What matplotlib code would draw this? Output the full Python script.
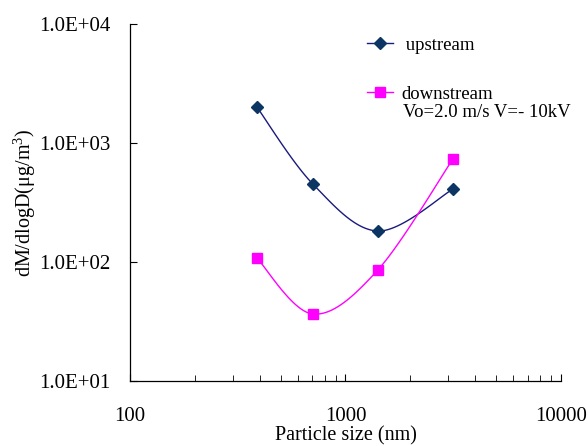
import numpy as np
import matplotlib
matplotlib.use("Agg")
import matplotlib.pyplot as plt

plt.rcParams['font.family'] = ['Liberation Serif', 'DejaVu Serif']
plt.rcParams['mathtext.fontset'] = 'custom'
plt.rcParams['mathtext.rm'] = 'Liberation Serif'
plt.rcParams['mathtext.it'] = 'Liberation Serif:italic'

# data
sizes = [388, 706, 1416, 3155]
upstream = [2010, 452, 182, 410]
downstream = [108, 36.5, 86, 735]


def smooth(xs, ys, n=40):
    """Catmull-Rom curve through the points in log-log space (Excel-like smoothing)."""
    lx = np.log10(xs)
    ly = np.log10(ys)
    px = np.concatenate([[lx[0]], lx, [lx[-1]]])
    py = np.concatenate([[ly[0]], ly, [ly[-1]]])
    outx, outy = [], []
    t = np.linspace(0, 1, n)
    for i in range(1, len(px) - 2):
        for arr, out in ((px, outx), (py, outy)):
            p0, p1, p2, p3 = arr[i - 1], arr[i], arr[i + 1], arr[i + 2]
            m1 = (p2 - p0) / 2
            m2 = (p3 - p1) / 2
            h00 = 2 * t**3 - 3 * t**2 + 1
            h10 = t**3 - 2 * t**2 + t
            h01 = -2 * t**3 + 3 * t**2
            h11 = t**3 - t**2
            out.extend(h00 * p1 + h10 * m1 + h01 * p2 + h11 * m2)
    return 10 ** np.array(outx), 10 ** np.array(outy)


fig = plt.figure(figsize=(5.88, 4.46), dpi=100)
ax = fig.add_axes([0.221, 0.146, 0.733, 0.8])

sx, sy = smooth(sizes, upstream)
ax.plot(sx, sy, color='#1a1a80', lw=1.0)
ax.plot(sizes, upstream, ls='none', marker='D', ms=5.8, color='#0d3563')
sx, sy = smooth(sizes, downstream)
ax.plot(sx, sy, color='#ff00ff', lw=1.0)
ax.plot(sizes, downstream, ls='none', marker='s', ms=7.2, color='#ff00ff')

# legend proxies
h_up, = ax.plot([], [], color='#1a1a80', lw=1.0, marker='D', ms=5.8,
                mfc='#0d3563', mec='#0d3563')
h_down, = ax.plot([], [], color='#ff00ff', lw=1.0, marker='s', ms=7.2)
ax.legend([h_up, h_down], [' upstream', 'downstream'], loc='upper left',
          bbox_to_anchor=(0.51, 1.012), frameon=False, fontsize=13.5,
          handlelength=1.4, handletextpad=0.45, labelspacing=1.69, numpoints=1)
ax.text(0.634, 0.751, 'Vo=2.0 m/s V=- 10kV', transform=ax.transAxes,
        fontsize=13.5, va='center', ha='left')

ax.set_xscale('log')
ax.set_yscale('log')
ax.set_xlim(100, 10000)
ax.set_ylim(10, 10000)
ax.set_xticks([100, 1000, 10000])
ax.set_xticklabels(['100', '1000', '10000'])
ax.set_yticks([10, 100, 1000, 10000])
ax.set_yticklabels(['1.0E+01', '1.0E+02', '1.0E+03', '1.0E+04'])
ax.yaxis.set_minor_locator(matplotlib.ticker.NullLocator())
ax.tick_params(which='both', direction='in', labelsize=15)
ax.tick_params(axis='x', which='major', length=5, pad=19)
ax.tick_params(axis='x', which='minor', length=4)
ax.tick_params(axis='y', length=5, pad=14)
ax.spines['top'].set_visible(False)
ax.spines['right'].set_visible(False)
ax.spines['left'].set_linewidth(0.9)
ax.spines['bottom'].set_linewidth(0.9)

ax.set_xlabel('Particle size (nm)', fontsize=14.5)
ax.set_ylabel('dM/dlogD(μg/m$^3$)', fontsize=14.5)
ax.xaxis.set_label_coords(0.5, -0.128)
ax.yaxis.set_label_coords(-0.214, 0.5)

fig.savefig('out.png', dpi=100)
